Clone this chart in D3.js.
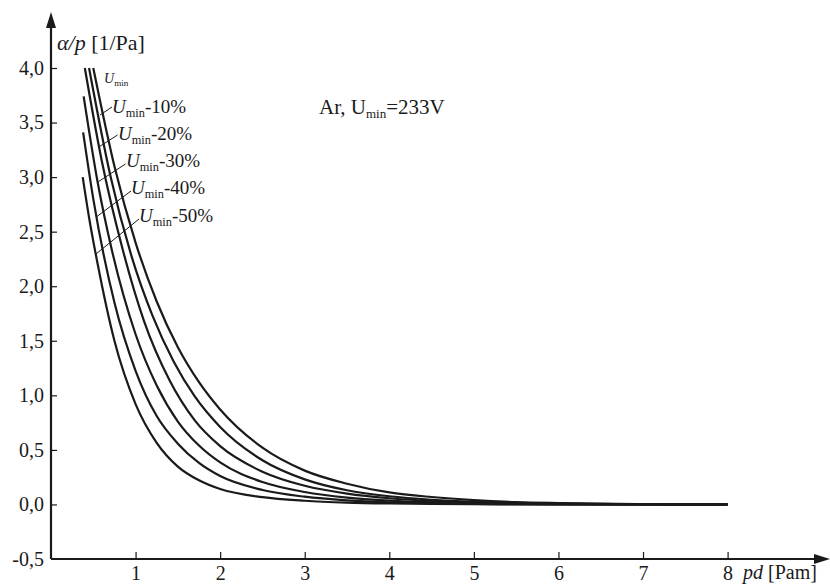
<!DOCTYPE html>
<html>
<head>
<meta charset="utf-8">
<script src="https://cdn.jsdelivr.net/npm/d3@7"></script>
<style>
  html, body { margin: 0; padding: 0; background: #fff; }
  svg { display: block; }
  text { font-family: "Liberation Serif", "Times New Roman", serif; fill: #1a1a1a; }
</style>
</head>
<body>
<svg id="chart" width="830" height="587"></svg>
<script>
// ---- data ----
const seriesNames = ["Umin", "Umin-10%", "Umin-20%", "Umin-30%", "Umin-40%", "Umin-50%"];

const pdUmin  = [0.50, 0.75, 1.00, 1.25, 1.50, 1.75, 2.00, 2.50, 3.00, 3.50, 4.00, 4.50, 5.00, 5.50, 6.00, 7.00, 8.00];
const valUmin = [4.00, 3.10, 2.40, 1.86, 1.44, 1.12, 0.87, 0.52, 0.31, 0.19, 0.11, 0.068, 0.040, 0.022, 0.013, 0.003, 0.00];

const pdU10   = [0.45, 0.70, 0.95, 1.20, 1.45, 1.70, 2.00, 2.50, 3.00, 3.50, 4.00, 4.50, 5.00, 5.50, 6.00, 7.00, 8.00];
const valU10  = [4.00, 3.02, 2.28, 1.73, 1.31, 0.99, 0.71, 0.405, 0.23, 0.13, 0.075, 0.043, 0.024, 0.014, 0.008, 0.002, 0.00];

const pdU20   = [0.40, 0.60, 0.85, 1.10, 1.40, 1.70, 2.00, 2.50, 3.00, 3.50, 4.00, 4.50, 5.00, 5.50, 6.00, 7.00, 8.00];
const valU20  = [4.00, 3.15, 2.33, 1.68, 1.14, 0.77, 0.534, 0.30, 0.171, 0.099, 0.057, 0.033, 0.019, 0.011, 0.006, 0.001, 0.00];

const pdU30   = [0.386, 0.55, 0.72, 1.00, 1.25, 1.50, 1.75, 2.00, 2.50, 3.00, 3.50, 4.00, 4.50, 5.00, 5.50, 6.00, 7.00, 8.00];
const valU30  = [3.74, 2.96, 2.33, 1.56, 1.09, 0.76, 0.54, 0.385, 0.206, 0.114, 0.063, 0.035, 0.019, 0.011, 0.006, 0.003, 0.0005, 0.00];

const pdU40   = [0.38, 0.50, 0.75, 1.00, 1.25, 1.50, 1.75, 2.00, 2.50, 3.00, 3.50, 4.00, 4.50, 5.00, 5.50, 6.00, 7.00, 8.00];
const valU40  = [3.41, 2.80, 1.85, 1.225, 0.81, 0.557, 0.38, 0.26, 0.132, 0.071, 0.038, 0.020, 0.011, 0.006, 0.003, 0.0015, 0.0003, 0.00];

const pdU50   = [0.375, 0.45, 0.55, 0.75, 1.00, 1.25, 1.50, 1.75, 2.00, 2.50, 3.00, 3.50, 4.00, 4.50, 5.00, 5.50, 6.00, 8.00];
const valU50  = [3.00, 2.63, 2.21, 1.50, 0.92, 0.565, 0.347, 0.221, 0.141, 0.067, 0.034, 0.017, 0.0087, 0.0044, 0.002, 0.001, 0.0004, 0.00];

const xTicks = [1, 2, 3, 4, 5, 6, 7, 8];
const yTicks = [-0.5, 0, 0.5, 1, 1.5, 2, 2.5, 3, 3.5, 4];

// ---- layout ----
const FONT = "'Liberation Serif', 'Times New Roman', serif";
const svg = d3.select("#chart");
const x = d3.scaleLinear().domain([0, 8]).range([51, 727.6]);
const y = d3.scaleLinear().domain([-0.5, 4]).range([559, 68]);

const series = [
  [pdUmin, valUmin], [pdU10, valU10], [pdU20, valU20],
  [pdU30, valU30], [pdU40, valU40], [pdU50, valU50]
].map((s, i) => ({ name: seriesNames[i], pts: s[0].map((p, j) => [p, s[1][j]]) }));

const ink = "#1a1a1a";
const fmtY = v => d3.format(".1f")(v).replace(".", ",").replace("\u2212", "-");

// y axis
const yAxis = svg.append("g")
  .attr("transform", `translate(${x(0)},0)`)
  .call(d3.axisLeft(y).tickValues(yTicks).tickSize(-6).tickPadding(7).tickFormat(fmtY))
  .attr("font-family", FONT).attr("font-size", 20);
yAxis.select(".domain").remove();
yAxis.selectAll(".tick line").attr("stroke", ink).attr("stroke-width", 1.2);
yAxis.selectAll(".tick text").attr("fill", ink);
yAxis.selectAll(".tick").filter(d => d === -0.5).select("line").remove();

// x axis
const xAxis = svg.append("g")
  .attr("transform", `translate(0,${y(-0.5)})`)
  .call(d3.axisBottom(x).tickValues(xTicks).tickSize(-7).tickPadding(7).tickFormat(d3.format("d")))
  .attr("font-family", FONT).attr("font-size", 20);
xAxis.select(".domain").remove();
xAxis.selectAll(".tick line").attr("stroke", ink).attr("stroke-width", 1.2);
xAxis.selectAll(".tick text").attr("fill", ink);

// axis lines with arrows
svg.append("line").attr("x1", x(0)).attr("y1", y(-0.5)).attr("x2", x(0)).attr("y2", 24)
  .attr("stroke", ink).attr("stroke-width", 2.2);
svg.append("path").attr("d", `M${x(0)},12 L${x(0) - 5},28 L${x(0) + 5},28 Z`).attr("fill", ink);
svg.append("line").attr("x1", x(0)).attr("y1", y(-0.5)).attr("x2", 818).attr("y2", y(-0.5))
  .attr("stroke", ink).attr("stroke-width", 2.2);
svg.append("path").attr("d", `M830,${y(-0.5)} L814,${y(-0.5) - 5} L814,${y(-0.5) + 5} Z`).attr("fill", ink);

// axis titles
const yt = svg.append("text").attr("x", 57).attr("y", 50).attr("font-size", 22);
yt.append("tspan").attr("font-style", "italic").text("\u03b1/p");
yt.append("tspan").text(" [1/Pa]");
const xt = svg.append("text").attr("x", 743).attr("y", 579).attr("font-size", 20);
xt.append("tspan").attr("font-style", "italic").text("pd");
xt.append("tspan").text(" [Pam]");

// curves
const line = d3.line().x(d => x(d[0])).y(d => y(d[1])).curve(d3.curveMonotoneX);
svg.append("g").selectAll("path").data(series).join("path")
  .attr("d", d => line(d.pts))
  .attr("fill", "none").attr("stroke", ink).attr("stroke-width", 2.2);

// curve labels (layout positions)
const labels = [
  { tx: 104, ty: 83,  fs: 14, sub: "min", tail: "",     lx1: null },
  { tx: 112, ty: 113, fs: 19, sub: "min", tail: "-10%", lx1: 100,  ly1: 115,   lx2: 112,   ly2: 107 },
  { tx: 118, ty: 140, fs: 19, sub: "min", tail: "-20%", lx1: 99.3, ly1: 146.7, lx2: 117.5, ly2: 135 },
  { tx: 126, ty: 167, fs: 19, sub: "min", tail: "-30%", lx1: 98.3, ly1: 181.7, lx2: 125.5, ly2: 164 },
  { tx: 131, ty: 194, fs: 19, sub: "min", tail: "-40%", lx1: 96.7, ly1: 216.7, lx2: 131,   ly2: 191 },
  { tx: 139, ty: 222, fs: 19, sub: "min", tail: "-50%", lx1: 96,   ly1: 254,   lx2: 139,   ly2: 219 }
];
labels.forEach(l => {
  const t = svg.append("text").attr("x", l.tx).attr("y", l.ty).attr("font-size", l.fs);
  t.append("tspan").attr("font-style", "italic").text("U");
  t.append("tspan").attr("font-size", l.fs * 0.65).attr("dy", l.fs * 0.2).text(l.sub);
  if (l.tail) t.append("tspan").attr("dy", -l.fs * 0.2).text(l.tail);
  if (l.lx1 !== null) {
    svg.append("line").attr("x1", l.lx1).attr("y1", l.ly1).attr("x2", l.lx2).attr("y2", l.ly2)
      .attr("stroke", ink).attr("stroke-width", 1);
  }
});

// annotation
const ann = svg.append("text").attr("x", 319).attr("y", 114).attr("font-size", 21);
ann.append("tspan").text("Ar, U");
ann.append("tspan").attr("font-size", 13).attr("dy", 4).text("min");
ann.append("tspan").attr("dy", -4).text("=233V");
</script>
</body>
</html>
